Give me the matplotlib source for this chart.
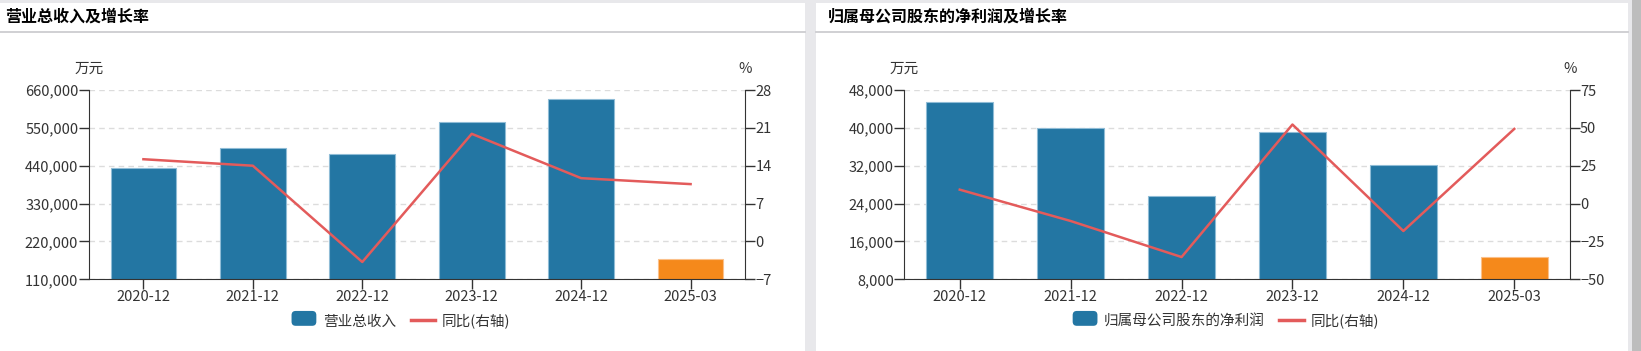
import matplotlib.pyplot as plt
from matplotlib.patches import Rectangle, Patch, FancyBboxPatch
from matplotlib.lines import Line2D
from matplotlib.legend_handler import HandlerPatch
from matplotlib.ticker import FuncFormatter

plt.rcParams['font.family'] = ['Noto Sans CJK SC', 'DejaVu Sans']

periods = ["2020-12", "2021-12", "2022-12", "2023-12", "2024-12", "2025-03"]

revenue = [432500, 491500, 473200, 565600, 634100, 168100]
revenue_yoy = [15.2, 14.0, -3.8, 19.9, 11.7, 10.6]

profit = [45400, 39900, 25700, 39100, 32100, 12700]
profit_yoy = [9.2, -11.5, -35.3, 52.2, -18.1, 49.3]

W, H = 1641, 351
BLUE = "#2376a3"
ORANGE = "#f5891b"
RED = "#e35b5b"
TXT = "#333333"
FS = 10.5

fig = plt.figure(figsize=(W / 100, H / 100), dpi=100, facecolor="#e8e8eb")


def px(x, y):
    return x / W, 1 - y / H


class RoundBox(HandlerPatch):
    def create_artists(self, legend, orig, xd, yd, width, height, fontsize, trans):
        p = FancyBboxPatch((xd, yd - 1), width, height + 2,
                           boxstyle="round,pad=0,rounding_size=3",
                           facecolor=orig.get_facecolor(), edgecolor="none", transform=trans)
        return [p]


# cards and separators (behind the axes)
for x0, x1 in [(0, 805), (816, 1628)]:
    fig.patches.append(Rectangle(px(x0, H), (x1 - x0) / W, (H - 3) / H,
                                 transform=fig.transFigure, facecolor="white",
                                 edgecolor="none", zorder=-2))
    fig.lines.append(Line2D([x0 / W, x1 / W], [1 - 32 / H] * 2,
                            transform=fig.transFigure, color="#c8c8cc", lw=1.2, zorder=-1))
fig.patches.append(Rectangle(px(1632, H), 9 / W, 1, transform=fig.transFigure,
                             facecolor="#bdbdbd", edgecolor="none", zorder=-2))


def panel(left, right, title, title_x, bars, yoy, ylim, yticks, y2lim, y2ticks, name, shift):
    x0, y0 = px(left, 279.3)
    ax = fig.add_axes([x0, y0, (right - left) / W, 189.3 / H])
    ax.patch.set_alpha(0)
    pos = list(range(len(periods)))
    colors = [BLUE] * (len(periods) - 1) + [ORANGE]
    edges = ["#8fbcd6"] * (len(periods) - 1) + ["#fbc08a"]
    ax.bar(pos, bars, width=0.6, color=colors, edgecolor=edges, linewidth=0.8, zorder=2)
    ax.set_xlim(-0.5, len(periods) - 0.5)
    ax.set_ylim(*ylim)
    ax.set_yticks(yticks)
    ax.yaxis.set_major_formatter(FuncFormatter(lambda v, p: f"{int(v):,}"))
    ax.set_xticks(pos)
    ax.set_xticklabels(periods)
    ax.grid(axis="y", linestyle=(0, (4, 3)), color="#dcdcdc", lw=1, zorder=0)
    for s in ["top", "right"]:
        ax.spines[s].set_visible(False)
    for s in ["left", "bottom"]:
        ax.spines[s].set_color(TXT)
    ax.tick_params(colors=TXT, labelsize=FS, length=7, width=1, pad=0.5)

    ax2 = ax.twinx()
    ax2.plot(pos, yoy, color=RED, lw=1.8, zorder=3)
    ax2.set_ylim(*y2lim)
    ax2.set_yticks(y2ticks)
    for s in ["top", "left", "bottom"]:
        ax2.spines[s].set_visible(False)
    ax2.spines["right"].set_color(TXT)
    ax2.tick_params(colors=TXT, labelsize=FS, length=7, width=1, pad=0.5)

    fig.text(*px(left, 69), "万元", ha="center", va="center", fontsize=FS, color=TXT)
    fig.text(*px(right, 69), "%", ha="center", va="center", fontsize=FS, color=TXT)
    fig.text(*px(title_x, 17), title, ha="left", va="center", fontsize=11.5,
             fontweight="bold", color="black")

    handles = [Patch(facecolor=BLUE, edgecolor="none"), Line2D([], [], color=RED, lw=2.5)]
    cx, cy = px((left + right) / 2 + shift, 321)
    fig.legend(handles, [name, "同比(右轴)"], loc="center", bbox_to_anchor=(cx, cy),
               ncol=2, frameon=False, fontsize=FS, handlelength=1.7, handleheight=0.9,
               handletextpad=0.45, columnspacing=1.0, labelcolor=TXT,
               handler_map={Patch: RoundBox()})


panel(88.7, 745.3, "营业总收入及增长率", 5, revenue, revenue_yoy,
      (110000, 660000), [110000, 220000, 330000, 440000, 550000, 660000],
      (-7, 28), [-7, 0, 7, 14, 21, 28], "营业总收入", -16)
panel(904.3, 1569.7, "归属母公司股东的净利润及增长率", 828, profit, profit_yoy,
      (8000, 48000), [8000, 16000, 24000, 32000, 40000, 48000],
      (-50, 75), [-50, -25, 0, 25, 50, 75], "归属母公司股东的净利润", -11)

fig.savefig("out.png", dpi=100, facecolor=fig.get_facecolor())
